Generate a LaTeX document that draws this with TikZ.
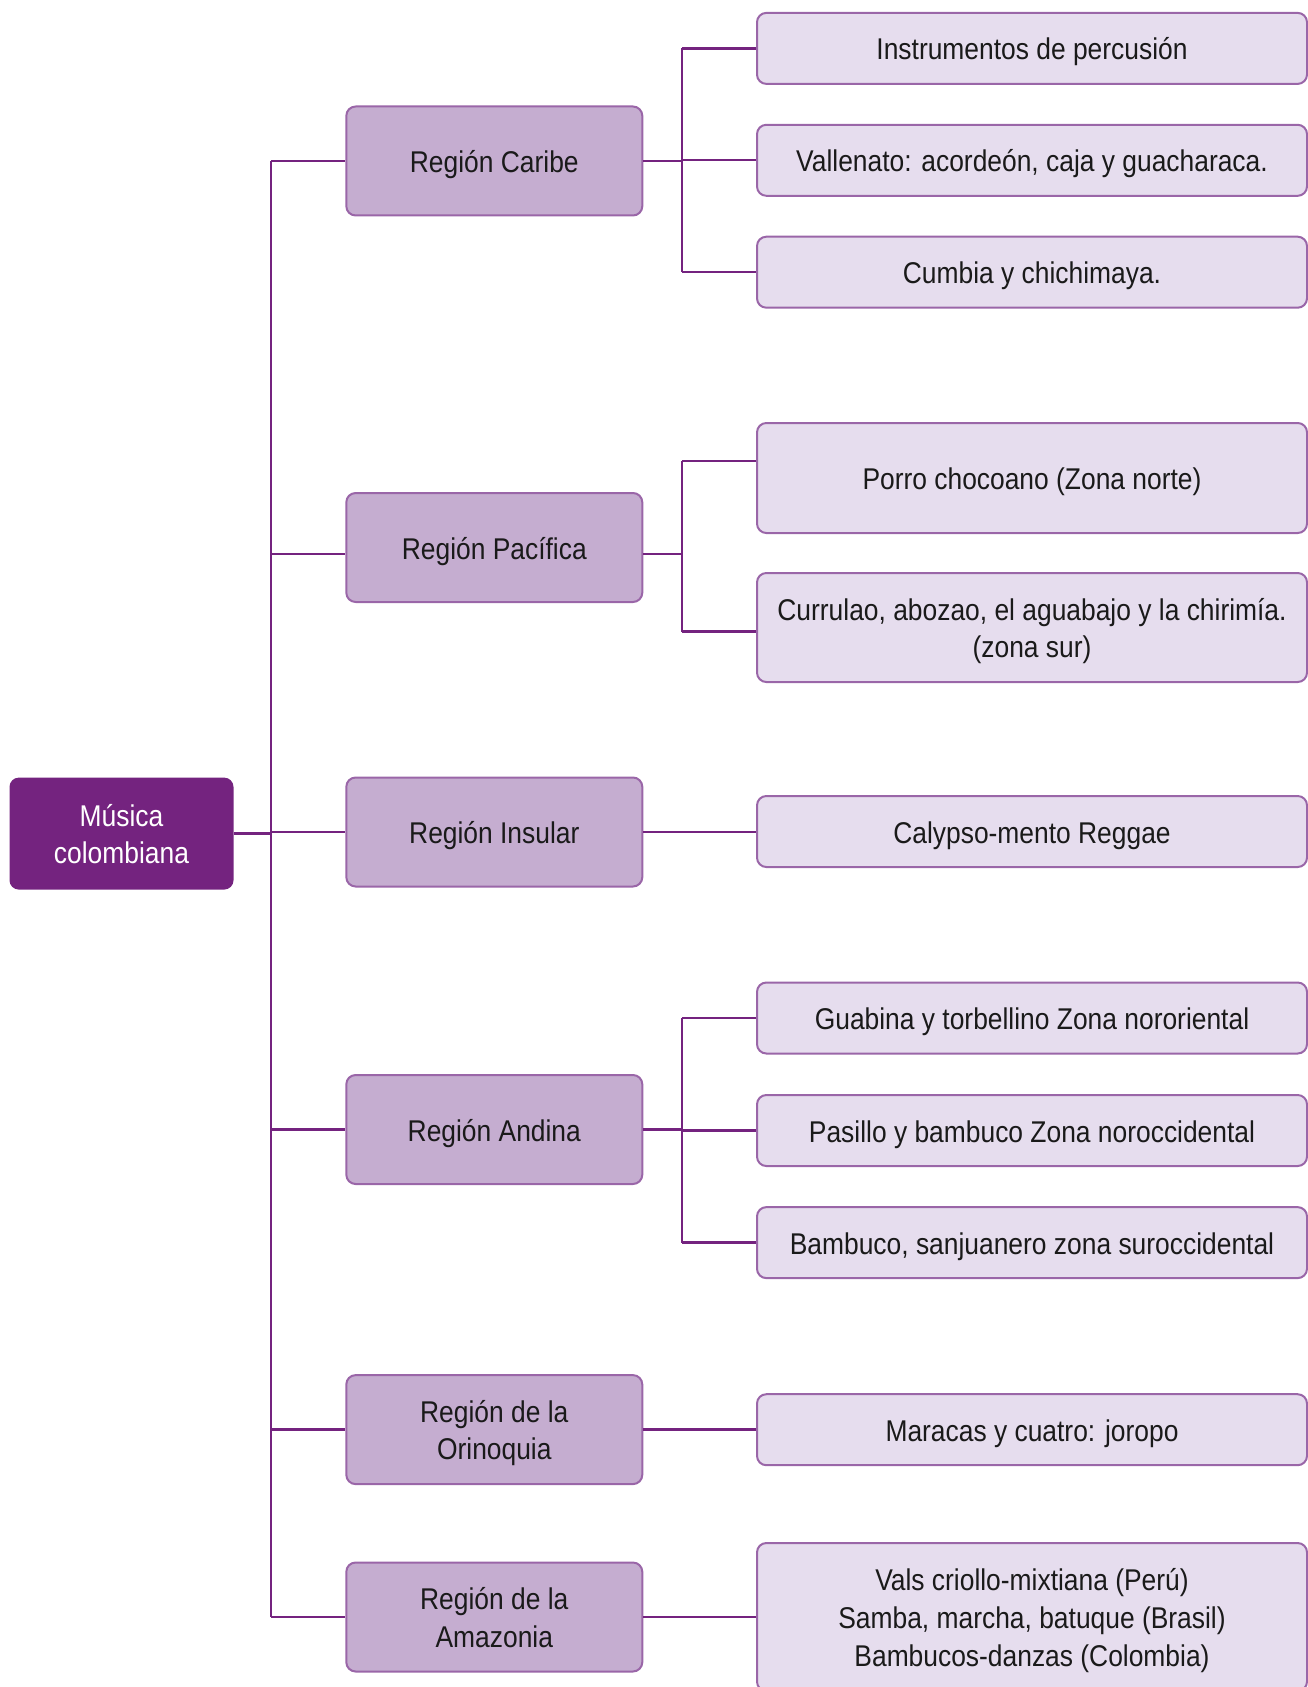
\documentclass[tikz,border=0pt]{standalone}
\usepackage{fontspec}
\setmainfont[FakeStretch=0.88]{Liberation Sans}
\definecolor{rootc}{HTML}{74237F}
\definecolor{regc}{HTML}{C5ADD0}
\definecolor{leafc}{HTML}{E6DDEE}
\definecolor{bordc}{HTML}{9A66A8}
\definecolor{linec}{HTML}{74237F}
\definecolor{txtc}{HTML}{1A1A1A}
\newcommand\boxtxt[1]{\raisebox{-3pt}[\height][\depth]{\begin{tabular}{@{}c@{}}#1\end{tabular}}}
\begin{document}
\begin{tikzpicture}[x=0.75pt,y=-0.75pt,
  every node/.style={font=\fontsize{22.5}{28.2}\selectfont, align=center, inner sep=0pt},
  rootbox/.style={fill=rootc, text=white, rounded corners=7pt, minimum width=224*0.75pt, minimum height=112*0.75pt},
  regbox/.style={fill=regc, draw=bordc, line width=1.5pt, text=txtc, rounded corners=7pt, minimum width=296*0.75pt, minimum height=109*0.75pt},
  leafbox/.style={fill=leafc, draw=bordc, line width=1.5pt, text=txtc, rounded corners=7pt, minimum width=550*0.75pt, minimum height=71*0.75pt},
  conn/.style={draw=linec, line width=1.8pt}]
\useasboundingbox (0,0) rectangle (1308,1687);
\begin{scope}
\clip (0,0) rectangle (1308,1687);
% root
\node[rootbox] (root) at (121.5,833.6) {\boxtxt{Música\\colombiana}};
% regions
\node[regbox] (caribe) at (494.3,161) {\boxtxt{Región Caribe}};
\node[regbox] (pacifica) at (494.3,547.5) {\boxtxt{Región Pacífica}};
\node[regbox] (insular) at (494.3,832) {\boxtxt{Región Insular}};
\node[regbox] (andina) at (494.3,1129.5) {\boxtxt{Región Andina}};
\node[regbox] (orinoquia) at (494.3,1429.6) {\boxtxt{Región de la\\Orinoquia}};
\node[regbox] (amazonia) at (494.3,1617) {\boxtxt{Región de la\\Amazonia}};
% leaves
\node[leafbox] (l1) at (1032,48.4) {\boxtxt{Instrumentos de percusión}};
\node[leafbox] (l2) at (1032,160.3) {\boxtxt{Vallenato: acordeón, caja y guacharaca.}};
\node[leafbox] (l3) at (1032,272.2) {\boxtxt{Cumbia y chichimaya.}};
\node[leafbox, minimum height=110*0.75pt] (porro) at (1032,478) {\boxtxt{Porro chocoano (Zona norte)}};
\node[leafbox, minimum height=109*0.75pt] (currulao) at (1032,627.5) {\boxtxt{Currulao, abozao, el aguabajo y la chirimía.\\(zona sur)}};
\node[leafbox] (calypso) at (1032,831.5) {\boxtxt{Calypso-mento Reggae}};
\node[leafbox] (guabina) at (1032,1018) {\boxtxt{Guabina y torbellino Zona nororiental}};
\node[leafbox] (pasillo) at (1032,1130.5) {\boxtxt{Pasillo y bambuco Zona noroccidental}};
\node[leafbox] (bambuco) at (1032,1242.6) {\boxtxt{Bambuco, sanjuanero zona suroccidental}};
\node[leafbox] (maracas) at (1032,1429.7) {\boxtxt{Maracas y cuatro: joropo}};
\node[leafbox, minimum height=148*0.75pt] (vals) at (1032,1617) {\boxtxt{Vals criollo-mixtiana (Perú)\\Samba, marcha, batuque (Brasil)\\Bambucos-danzas (Colombia)}};
\end{scope}
% trunk
\coordinate (tr) at (271,0);
\coordinate (br) at (682,0);
\draw[conn] (root.east) -- (tr |- root.east);
\draw[conn] (tr |- caribe.west) -- (tr |- amazonia.west);
\foreach \r in {caribe,insular,andina,orinoquia,amazonia}
  \draw[conn] (tr |- \r.west) -- (\r.west);
\coordinate (pacw) at ([yshift=-4.9pt]pacifica.west);
\draw[conn] (tr |- pacw) -- (pacw);
% Caribe branch
\draw[conn] (caribe.east) -- (br |- caribe.east);
\draw[conn] (br |- l1.west) -- (br |- l3.west);
\foreach \l in {l1,l2,l3}
  \draw[conn] (br |- \l.west) -- (\l.west);
% Pacifica branch
\coordinate (pace) at ([yshift=-4.9pt]pacifica.east);
\coordinate (porw) at ([yshift=12.75pt]porro.west);
\coordinate (curw) at ([yshift=-3pt]currulao.west);
\draw[conn] (pace) -- (br |- pace);
\draw[conn] (br |- porw) -- (br |- curw);
\draw[conn] (br |- porw) -- (porw);
\draw[conn] (br |- curw) -- (curw);
% Insular
\draw[conn] (insular.east) -- (insular.east -| calypso.west);
% Andina branch
\draw[conn] (andina.east) -- (br |- andina.east);
\draw[conn] (br |- guabina.west) -- (br |- bambuco.west);
\foreach \l in {guabina,pasillo,bambuco}
  \draw[conn] (br |- \l.west) -- (\l.west);
% Orinoquia, Amazonia
\draw[conn] (orinoquia.east) -- (orinoquia.east -| maracas.west);
\draw[conn] (amazonia.east) -- (amazonia.east -| vals.west);
\end{tikzpicture}
\end{document}
